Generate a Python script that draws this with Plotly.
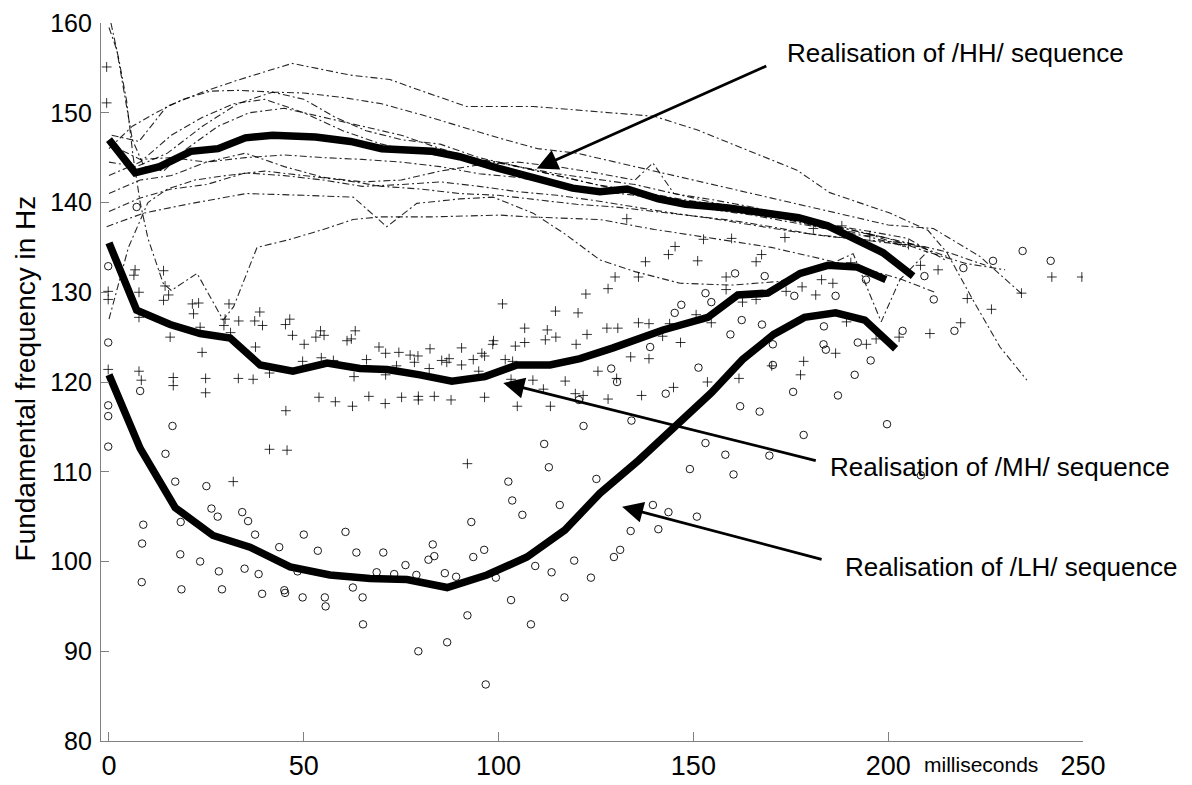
import plotly.graph_objects as go

# ---------------- data ----------------
x_ticks = [0, 50, 100, 150, 200, 250]
y_ticks = [80, 90, 100, 110, 120, 130, 140, 150, 160]

# mean contours (thick lines)
hh_mean_x = [0, 6.7, 13, 21, 28, 35, 42, 53, 62, 70, 83, 90, 100, 109, 119, 126, 133, 141, 148, 159, 168, 177, 184.5, 192, 198.7, 206.4]
hh_mean_y = [147, 143.3, 144.0, 145.7, 146.0, 147.2, 147.5, 147.3, 146.8, 146.0, 145.7, 145.1, 143.8, 142.7, 141.6, 141.2, 141.5, 140.4, 139.8, 139.4, 138.8, 138.3, 137.4, 135.7, 134.4, 131.8]

mh_mean_x = [0, 7.1, 15.7, 23.4, 31.1, 38.8, 47.2, 56, 64.4, 71.4, 79.8, 88, 96.5, 104.7, 113.2, 120.9, 129.4, 142.2, 153.7, 161.4, 169.1, 177.4, 184.5, 192, 199.4]
mh_mean_y = [135.5, 128.0, 126.4, 125.4, 124.9, 121.9, 121.2, 122.1, 121.5, 121.4, 120.8, 120.1, 120.6, 121.9, 121.9, 122.6, 123.8, 125.8, 127.2, 129.7, 129.9, 132.1, 133.0, 132.8, 131.4]

lh_mean_x = [0, 8, 17, 26.7, 36.2, 46.5, 56.7, 67, 76.5, 86.8, 97, 107.3, 117, 126, 136, 144.9, 154.6, 162.6, 170.6, 178.5, 186.5, 194, 201.9]
lh_mean_y = [120.8, 112.6, 106.0, 102.9, 101.6, 99.4, 98.5, 98.1, 98.0, 97.1, 98.5, 100.5, 103.5, 107.6, 111.3, 114.8, 118.8, 122.5, 125.3, 127.2, 127.7, 126.9, 123.7]

# individual /HH/ realisations (dash-dot lines)
hh_a_x = [0.7, 7.7, 14.8, 24, 32.8, 47, 61.9, 72.1, 79.8, 91.8, 108.9, 126, 140, 150.9, 163.7, 176.6, 185, 200.6, 210.2, 215.1, 221.8, 228.7, 235.6]
hh_a_y = [147.5, 146.8, 150.7, 152.3, 153.6, 155.5, 154.2, 153.7, 152.5, 150.7, 150.7, 150.1, 149.6, 148.1, 145.9, 143.6, 141.1, 138.8, 136.9, 134.4, 129.1, 123.9, 120.2]
hh_b_x = [0, 6, 12, 19, 26, 33, 42, 50, 60, 70, 80, 90, 100, 110, 120, 130, 140, 150, 160, 170, 180, 190, 200, 211.6, 223.5, 234.6]
hh_b_y = [146, 148.5, 150, 151.5, 152.4, 152.5, 152.3, 152.2, 151.7, 151, 149.8, 148.5, 147.2, 146, 145.5, 144.5, 143.5, 142.5, 141.5, 140.5, 139.5, 138.5, 137.5, 137.1, 134, 129.7]
hh_c_x = [0, 7, 15, 24, 33, 42, 50, 58, 66, 75, 85, 95, 105, 115, 125, 135, 145, 155, 165, 175, 185, 195, 205, 215]
hh_c_y = [144.5, 144, 145.5, 148.5, 151, 152.3, 151.5, 149.5, 148, 147, 146.5, 145, 144, 143.2, 142.6, 142, 141, 140.3, 139.5, 138.5, 137.5, 136.8, 136, 133.5]
hh_d_x = [0, 8, 16, 24, 32, 40, 50, 60, 70, 80, 90, 100, 110, 120, 130, 140, 150, 160, 170, 180, 190, 200, 210]
hh_d_y = [143, 144.5, 147.5, 149.5, 151, 151.5, 150, 148, 146.5, 145.5, 145, 144.5, 143.5, 142.5, 141.5, 140.5, 140, 139.2, 138.5, 137.8, 137, 136, 134.5]
hh_e_x = [0, 8, 16, 25, 35, 45, 55, 65, 75, 85, 95, 105, 115, 125, 135, 145, 155, 165, 175, 185, 195, 205]
hh_e_y = [146.5, 144.8, 145, 144.5, 145, 145.3, 145, 144.8, 144.5, 144, 143.2, 142.8, 142, 141.3, 140.8, 140, 139.2, 138.6, 137.8, 137, 136.2, 135]
hh_f_x = [0, 8, 16, 25, 35, 45, 55, 65, 75, 85, 95, 105, 115, 125, 135, 139.6, 145, 155, 165, 175, 185, 195, 205, 215]
hh_f_y = [141, 142.5, 143, 144.5, 145.5, 144, 142.8, 142.3, 142.5, 143.5, 144.2, 144.5, 144, 143.3, 142.5, 144.4, 141, 140, 139, 138, 137, 136.5, 135.5, 134]
hh_g_x = [0, 8, 16, 25, 35, 45, 55, 65, 75, 85, 95, 105, 115, 125, 135, 145, 155, 165, 175, 185, 195, 205, 215, 225]
hh_g_y = [139, 140.5, 141.5, 142, 143.3, 143, 142.5, 141.8, 142, 142.3, 141.8, 141.2, 140.8, 140.2, 139.5, 138.8, 138.2, 137.5, 136.8, 136.2, 135.8, 135.5, 134.5, 133]
hh_h_x = [-0.6, 8.8, 20, 35.3, 50, 62.7, 71.3, 79, 90, 98.6, 108.9, 117, 126, 135, 146.6, 160, 172, 182, 191, 198.2, 203, 210, 220, 230]
hh_h_y = [137.3, 138.8, 139.8, 141, 140.8, 140.6, 137.3, 139.9, 140.4, 140.6, 138.8, 136.5, 133.6, 132.3, 131, 130.8, 131.2, 132.5, 134.3, 126.7, 131.4, 134.5, 133.2, 132.5]
hh_i_x = [0.5, 2.5, 4.5, 6.2, 8, 10, 13.9, 16, 22.6, 29.3, 32, 38, 45.7, 55, 62.6, 69.6, 83.2, 100.4, 107.3, 126, 140, 155, 170, 185, 195, 203, 212]
hh_i_y = [160, 156, 151.4, 145.1, 140, 136, 131, 130.2, 132.1, 126.9, 128.4, 135, 135.8, 137, 138.1, 138.4, 138.4, 138.6, 138.4, 138.1, 137, 136, 135, 133.5, 132.5, 131.5, 130]
hh_j_x = [0, 2, 4, 6, 9, 14, 20, 28, 36, 45, 55, 65, 75, 85, 95, 105, 115, 125, 135, 145, 155, 165, 175, 185, 195, 205]
hh_j_y = [159.5, 157, 152, 147, 144, 143.5, 146, 148.5, 150, 150.5, 149.5, 148.5, 147.5, 146, 144.8, 144, 143, 142, 141.3, 140.5, 139.8, 139, 138.2, 137.5, 136.5, 135]
hh_k_x = [0, 5, 10, 15, 22, 30, 40, 50, 60, 70, 80, 90, 100, 110, 120, 130, 140, 150, 160, 170, 180, 190, 200, 210]
hh_k_y = [127, 135, 140, 141.5, 142.5, 143, 143.5, 143, 142.5, 141.8, 141.5, 141, 140.8, 140.3, 139.8, 139.5, 139, 138.5, 138, 137.3, 136.5, 136, 135.5, 135]

# individual /MH/ realisations (+)
mh_pts_x = [-0.6, -0.6, -0.2, -0.2, -0.2, 6.4, 6.7, 7.7, 7.7, 7.7, 8.3, 14, 14.4, 15.3, 14, 15.7, 16.5, 16.5,
            21.4, 23, 21.7, 23.4, 23.9, 24.8, 24.8, 29.8, 30.8, 29.5, 31.2, 33.3, 31.9, 33.2, 37.0, 37.4, 38.7, 39.4,
            37.6, 41.2, 41.2, 45.3, 46.4, 45.4, 45.7, 47.1, 50.1, 49.7, 53.1, 54.3, 55.2, 53.9, 58.1, 54.5, 57.6,
            61.1, 62.2, 63.2, 62.5, 62.9, 66.1, 66.7, 69.3, 71, 74.4, 71, 70.9, 73.8, 75.1, 77.3, 79.3, 78.4, 79.4,
            79.4, 82.4, 82.2, 83.5, 85.4, 87.3, 86.7, 90.5, 90.5, 87.8, 93.5, 94.9, 95.7, 96.4, 92, 96.4, 98.7, 98.5,
            101, 101.7, 103.6, 103.2, 104.3, 106.7, 106.7, 104.8, 108.8, 111.5, 112, 112.5, 114.6, 114.7, 113.3,
            117.1, 119.7, 120.4, 119.9, 122.4, 128.1, 122.7, 121.7, 125.5, 130.3, 128.1, 127.8, 130.6, 129.9, 135.9,
            137.7, 151.1, 166.1, 158.4, 135.9, 138.6, 143.9, 150.7, 154.6, 158.4, 162.6, 166.1, 142.1, 146.7, 133.9,
            138.6, 136.7, 144.9, 153.6, 161.7, 170.1, 177.5, 178.3, 173.8, 177.9, 181.4, 182.9, 185.8, 186.5, 189.3,
            190.4, 194.4, 196.9, 202.8, 208.3, 212.8, 210.7, 218.6, 220.3, 226.5, 234.2, 242, 249.7,
            145.3, 143.6, 167.5, 152.6, 159.8, 173.5, 180.8, 188.1, 195.3, 205.2, 132.9]
mh_pts_y = [155.1, 151.1, 130.1, 129.2, 121.4, 131.9, 132.5, 130.0, 127.2, 121.2, 120.2, 132.4, 130.7, 129.7, 129.1, 125.0, 120.5, 119.6,
            128.7, 128.8, 127.6, 126.1, 123.3, 120.4, 118.8, 127.0, 128.7, 126.3, 125.5, 126.8, 108.9, 120.4, 120.3, 126.8, 127.8, 126.3,
            123.9, 121.0, 112.5, 126.4, 127.0, 116.8, 112.4, 125.2, 124.2, 122.3, 125.0, 125.7, 125.2, 118.3, 117.8, 122.7, 122.4,
            124.6, 124.8, 125.7, 117.3, 120.6, 122.5, 118.4, 123.9, 123.2, 123.3, 120.8, 117.6, 121.8, 118.3, 123.0, 122.9, 122.2, 118.4,
            118.0, 123.7, 121.5, 118.4, 122.4, 122.6, 122.2, 123.8, 121.9, 118.0, 122.5, 121.2, 123.2, 122.9, 110.9, 118.3, 124.6, 124.2,
            128.7, 122.5, 122.3, 120.3, 124.0, 126.0, 124.4, 117.3, 120.2, 119.2, 124.7, 125.8, 127.9, 125.0, 117.3,
            120.1, 118.7, 127.7, 124.2, 129.8, 130.4, 125.3, 118.5, 121.2, 120.4, 118.1, 126.0, 126.0, 131.7, 131.7,
            133.4, 133.5, 133.4, 131.7, 126.6, 126.5, 126.5, 127.5, 126.6, 130.3, 128.9, 129.2, 125.1, 124.4, 122.8,
            122.6, 118.5, 119.4, 120.0, 120.4, 121.8, 120.8, 122.3, 130.1, 130.6, 129.7, 131.4, 131.0, 123.2, 126.7,
            133.3, 124.2, 124.8, 125.0, 133.0, 132.5, 125.4, 126.6, 129.3, 128.1, 129.9, 131.7, 131.7,
            135.1, 134.2, 134.2, 135.9, 136.0, 136.1, 137.1, 137.4, 136.3, 135.3, 138.2]

# individual /LH/ realisations (o)
lh_pts_x = [-0.2, -0.2, -0.2, -0.2, -0.2, 7.1, 8.0, 16.3, 14.5, 17, 25, 8.8, 8.5, 8.4, 18.4, 18.3, 18.6, 23.4, 26.3, 27.9,
            28.2, 29, 34.2, 35.7, 37.5, 34.8, 38.4, 39.3, 43.7, 45, 45.2, 48.4, 49.7, 50, 53.6, 55.4, 55.6, 60.7, 62.6,
            63.5, 65.1, 65.2, 68.7, 70.4, 73.2, 76.1, 78.9, 79.4, 82, 83.1, 83.5, 86.2, 86.8, 89.1, 92, 93, 93.5, 96.3,
            96.7, 99.3, 102.5, 103.5, 103.2, 106.1, 108.3, 109.4, 111.7, 112.9, 113.6, 115.7, 116.9, 119.4,
            123.7, 129.6, 131.2, 133.9, 141,
            160.7, 168.3, 153.1, 154.6, 146.9, 145.2, 162.4, 167.6, 159.5, 138.9, 175.9, 186.5, 194.3, 183.5, 183.4,
            184, 192.2, 195.5, 191.4, 203.7, 209.3, 211.7, 219.3, 217, 226.9, 241.7, 128.9, 130.4, 120.6, 121.8,
            134.1, 142.9, 151.3, 153.1, 158.2, 149.1, 160.3, 162, 167, 170.4, 170.4, 175.6, 178.3, 187.1, 169.5,
            199.7, 125.1, 139.6, 143.6, 150.9, 208.4, 234.5]
lh_pts_y = [132.9, 124.4, 117.4, 116.2, 112.8, 139.5, 119.0, 115.1, 112.0, 108.9, 108.4, 104.1, 102.0, 97.7, 104.4, 100.8, 96.9, 100.0, 105.9, 105.0,
            98.9, 96.9, 105.5, 104.5, 103.0, 99.2, 98.6, 96.4, 101.6, 96.8, 96.5, 98.9, 96.0, 103.0, 101.2, 96.0, 95.0, 103.3, 97.1,
            101.0, 96.0, 93.0, 98.8, 101.0, 98.6, 99.6, 98.5, 90.0, 100.2, 101.9, 100.6, 98.7, 91.0, 98.3, 94.0, 104.4, 100.5, 101.3,
            86.3, 98.2, 108.9, 106.8, 95.7, 105.2, 93.0, 99.5, 113.1, 110.5, 98.8, 106.3, 96.0, 100.1,
            98.2, 100.5, 101.3, 103.4, 103.6,
            132.1, 131.8, 129.9, 128.9, 128.6, 127.7, 126.9, 126.4, 125.3, 123.9, 129.6, 129.6, 131.4, 126.2, 124.2,
            123.6, 124.4, 122.4, 120.8, 125.7, 131.8, 129.2, 132.7, 125.7, 133.5, 133.5, 121.5, 120.0, 118.0, 115.1,
            115.7, 118.7, 121.6, 113.2, 111.9, 110.3, 109.7, 117.3, 116.7, 124.2, 121.9, 118.9, 114.1, 118.5, 111.8,
            115.3, 109.2, 106.3, 105.5, 105.0, 109.6, 134.6]

labels = {
    "hh": "Realisation of /HH/ sequence",
    "mh": "Realisation of /MH/ sequence",
    "lh": "Realisation of /LH/ sequence",
    "x": "milliseconds",
    "y": "Fundamental frequency in Hz",
}

# ---------------- figure ----------------
FONT = "Liberation Sans, Arial, Helvetica, sans-serif"
fig = go.Figure()

hh_lines = [(hh_a_x, hh_a_y), (hh_b_x, hh_b_y), (hh_c_x, hh_c_y), (hh_d_x, hh_d_y), (hh_e_x, hh_e_y),
            (hh_f_x, hh_f_y), (hh_g_x, hh_g_y), (hh_h_x, hh_h_y), (hh_i_x, hh_i_y), (hh_j_x, hh_j_y),
            (hh_k_x, hh_k_y)]
for lx, ly in hh_lines:
    fig.add_trace(go.Scatter(x=lx, y=ly, mode="lines",
                             line=dict(color="rgba(0,0,0,0.85)", width=1.1, dash="7px,3px,2px,3px"),
                             hoverinfo="skip", showlegend=False))

fig.add_trace(go.Scatter(x=mh_pts_x, y=mh_pts_y, mode="markers",
                         marker=dict(symbol="cross-thin-open", size=7, color="black",
                                     line=dict(color="black", width=0.8)),
                         showlegend=False))
fig.add_trace(go.Scatter(x=lh_pts_x, y=lh_pts_y, mode="markers",
                         marker=dict(symbol="circle-open", size=7.5, color="black",
                                     line=dict(color="black", width=0.9)),
                         showlegend=False))

for mx, my in [(hh_mean_x, hh_mean_y), (mh_mean_x, mh_mean_y), (lh_mean_x, lh_mean_y)]:
    fig.add_trace(go.Scatter(x=mx, y=my, mode="lines",
                             line=dict(color="black", width=7.5),
                             showlegend=False))

axis_common = dict(showgrid=False, zeroline=False, showline=True, linecolor="#808080", linewidth=1.3,
                   ticks="inside", tickcolor="#808080", tickwidth=1, mirror=False, automargin=False)

fig.update_layout(
    width=1192, height=785,
    margin=dict(l=101, r=109, t=23, b=44),
    paper_bgcolor="white", plot_bgcolor="white",
    xaxis=dict(range=[-2.05, 250], tickvals=x_ticks, ticktext=[str(v) for v in x_ticks],
               ticklen=9, tickfont=dict(family=FONT, size=27, color="black"),
               ticklabelstandoff=0, **axis_common),
    yaxis=dict(range=[80, 160], tickvals=y_ticks, ticktext=[str(v) for v in y_ticks],
               ticklen=8, tickfont=dict(family=FONT, size=25, color="black"),
               ticklabelstandoff=3, **axis_common),
    showlegend=False,
    font=dict(family=FONT, color="black"),
)

# arrows (head in data coords, tail as pixel offset)
arrow_style = dict(showarrow=True, arrowhead=2, arrowsize=1.5, arrowwidth=2.8, arrowcolor="black",
                   text="", standoff=0, xref="x", yref="y")
fig.add_annotation(x=109.8, y=143.8, ax=231, ay=-103, **arrow_style)
fig.add_annotation(x=101.2, y=119.9, ax=314, ay=78, **arrow_style)
fig.add_annotation(x=131.7, y=106.1, ax=201, ay=53, **arrow_style)

# texts
txt = dict(showarrow=False, xref="paper", yref="paper", xanchor="left", yanchor="middle",
           font=dict(family=FONT, size=26, color="black"))
fig.add_annotation(x=0.6965, y=0.958, text=labels["hh"], **txt)
fig.add_annotation(x=0.7403, y=0.3816, text=labels["mh"], **txt)
fig.add_annotation(x=0.7556, y=0.2423, text=labels["lh"], **txt)

fig.add_annotation(x=0.896, y=-0.0334, text=labels["x"], showarrow=False, xref="paper", yref="paper",
                   xanchor="center", yanchor="middle", font=dict(family=FONT, size=21, color="black"))
fig.add_annotation(x=-0.0774, y=0.5049, text=labels["y"], textangle=-90, showarrow=False,
                   xref="paper", yref="paper", xanchor="center", yanchor="middle",
                   font=dict(family=FONT, size=28, color="black"))

fig.write_html("out.html", config={"displayModeBar": False},
               post_script="document.body.style.margin='0';")
